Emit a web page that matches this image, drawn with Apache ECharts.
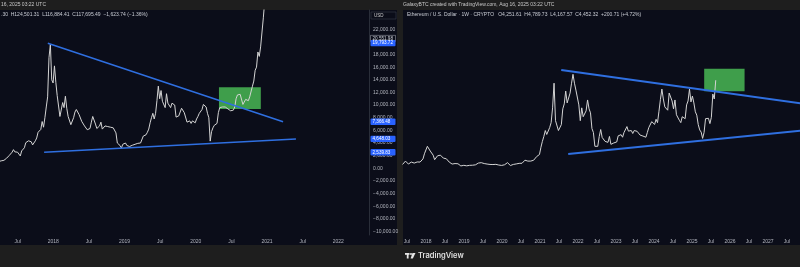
<!DOCTYPE html>
<html><head><meta charset="utf-8">
<script src="https://cdn.jsdelivr.net/npm/echarts@6/dist/echarts.min.js"></script>
<style>html,body{margin:0;padding:0;background:#1e1e1e}#c{width:800px;height:267px}</style>
</head><body><div id="c"></div><script>
// ---------- DATA ----------
const btcStart = '2017-03-26'; // weekly closes
const btc2017 = [1040,1120,1180,1210,1260,1350,1600,1750,2050,2200,2550,2950,2600,2500,2550,2500,1950,2750,2750,3250,4050,4100,4350,4600,4200,3700,3900,4350,4800,5700,6000,6150,7400,6500,8000,9700,11300,17500,19600,14000,13500];
const btc2018 = [16200,13600,11500,11400,8200,8100,10400,9600,11400,9500,8200,8500,6900,6900,8000,8900,9300,9600,8500,8200,7400,7600,6700,6500,6100,6400,6300,7300,8200,8200,7000,6300,6400,6700,7300,6200,6500,6700,6600,6600,6300,6500,6400,6400,6300,5600,4000,4100,3600,3200,3800,3900];
const btc2019 = [4000,3600,3550,3450,3450,3650,3900,3800,3850,3950,4000,4000,4150,5100,5100,5300,5700,6200,7200,8000,8700,7800,8700,10700,13000,11000,12300,10600,10500,9600,11800,10300,10100,9600,10300,10300,10000,8100,8200,8300,8200,9500,9200,8800,8500,7300,7500,7500,7100,7500,7300,7200];
const btc2020 = [7800,8200,8700,8600,9300,10100,9900,9700,8700,8000,4300,5800,6400,6800,6900,7100,8800,9600,9300,9700,9700,9700,9500,9400,9150,9100,9300,9200,9700,11000,11600,11900,11700,11700,10100,10400,10900,10700,10700,11300,11500,13000,13800,15500,16000,18400,17700,19200,19000,23800,26500,33000];
const btc2021 = [33000,40000,36000,32000,34000,39000,47000,57000,46000,51000,59000,58000];

const ethStart = '2017-05-21'; // two-week closes
const eth2017 = [180,250,350,290,200,200,300,345,250,290,305,295,300,360,460,720,760];
const eth2018 = [1100,1050,860,860,650,420,400,620,720,650,600,500,450,470,450,300,280,200,240,225,200,215,130,105,95,135];
const eth2019 = [125,110,120,135,135,140,175,160,165,250,245,270,290,225,210,200,185,180,170,175,175,185,180,150,140,130];
const eth2020 = [145,165,225,270,200,125,145,180,210,205,230,235,225,240,310,395,395,350,370,350,370,395,460,575,590,685];
const eth2021 = [1050,1350,1600,1900,1700,1800,2050,2300,3050,4300,2400,2400,1900,1850,2200,3000,3250,3900,3300,3400,3800,4300,4750,4300,3950,4050];
const eth2022 = [3200,2400,3050,2600,2550,2900,3450,3000,2800,2000,1800,1100,1050,1100,1600,1950,1550,1600,1350,1300,1300,1600,1200,1200,1270,1220];
const eth2023 = [1320,1630,1630,1690,1560,1800,1800,2100,1870,1800,1900,1750,1900,1870,1860,1830,1670,1630,1620,1670,1560,1800,2050,2070,2350,2270];
const eth2024 = [2210,2470,2300,2880,3480,4000,3500,3100,3000,2930,3800,3700,3400,3000,3450,2700,2600,2420,2300,2600,2500,2500,3200,3400,4000,3350];
const eth2025 = [3650,3300,2850,2680,2200,1930,1820,1500,1800,2500,2550,2520,2250,2570,3750,3500,4450];

const btcUpperTrend = [['2017-12-04', 19793.72], ['2021-03-24', 7366.48]];
const btcLowerTrend = [['2017-11-15', 2539.83], ['2021-05-29', 4648.03]];
const ethUpperTrend = [['2021-07-24', 4970], ['2027-11-06', 3281]];
const ethLowerTrend = [['2021-09-29', 710], ['2027-11-06', 1891]];
const btcBox = [['2020-04-29', 12816], ['2020-11-30', 9380]];
const ethBox = [['2025-04-28', 5035], ['2026-05-21', 3890]];

const btcPriceTicks = [22000,20000,18000,16000,14000,12000,10000,8000,6000,4000,2000,0,-2000,-4000,-6000,-8000,-10000];
const btcTagValues = [19793.72, 7366.48, 4648.03, 2539.83];
const btcHighBox = 20551.98;
const btcTimeTicks = [2017.5,2018,2018.5,2019,2019.5,2020,2020.5,2021,2021.5,2022];
const ethTimeTicks = [2017.5,2018,2018.5,2019,2019.5,2020,2020.5,2021,2021.5,2022,2022.5,2023,2023.5,2024,2024.5,2025,2025.5,2026,2026.5,2027,2027.5];

const leftStamp = '16, 2025 03:22 UTC';
const rightStamp = 'GalaxyBTC created with TradingView.com, Aug 16, 2025 03:22 UTC';
const leftLegend = '.30  H124,501.31  L116,884.41  C117,695.49  \u22121,623.74 (\u22121.36%)';
const rightLegend = 'Ethereum / U.S. Dollar \u00b7 1W \u00b7 CRYPTO   O4,251.61  H4,789.73  L4,167.57  C4,452.32  +200.71 (+4.72%)';

// ---------- BUILD ----------
const DAY = 86400000;
function decYear(ms){const d=new Date(ms);const y=d.getUTCFullYear();const s=Date.UTC(y,0,1),e=Date.UTC(y+1,0,1);return y+(ms-s)/(e-s);}
function dy(str){return decYear(Date.parse(str));}
const btcValues = [...btc2017,...btc2018,...btc2019,...btc2020,...btc2021];
const ethValues = [...eth2017,...eth2018,...eth2019,...eth2020,...eth2021,...eth2022,...eth2023,...eth2024,...eth2025];
const btcData = btcValues.map((v,i)=>[decYear(Date.parse(btcStart)+i*7*DAY), v]);
const ethData = ethValues.map((v,i)=>[decYear(Date.parse(ethStart)+i*14*DAY), v]);
const pts = a => a.map(p=>[dy(p[0]), p[1]]);

function fmtPrice(v){
  if (v === 0) return '0.00';
  return (v<0?'\u2212':'') + Math.abs(v).toLocaleString('en-US',{minimumFractionDigits:2, maximumFractionDigits:2});
}
const FONT = 'Liberation Sans, Arial, sans-serif';
const LBL = '#b2b5be';
const BLUE = '#2f6fe0';
const GREEN = '#3f9e4b';
const PRICE = '#d4d4d4';

const chart = echarts.init(document.getElementById('c'));
const timeLabel = v => Number.isInteger(v) ? String(v) : 'Jul';

chart.setOption({
  animation: false,
  backgroundColor: '#1e1e1e',
  grid: [
    {left: 0, top: 10, width: 369, height: 225},
    {left: 403, top: 10, width: 397, height: 225}
  ],
  xAxis: [
    {type:'value', gridIndex:0, min: 2017.252, max: 2022.431,
     axisLine:{show:false}, axisTick:{show:false}, splitLine:{show:false},
     axisLabel:{customValues: btcTimeTicks, formatter: timeLabel, fontSize:5, color:LBL, margin:4, fontFamily:FONT}},
    {type:'value', gridIndex:1, min: 2017.395, max: 2027.842,
     axisLine:{show:false}, axisTick:{show:false}, splitLine:{show:false},
     axisLabel:{customValues: ethTimeTicks, formatter: timeLabel, fontSize:5, color:LBL, margin:4, fontFamily:FONT}}
  ],
  yAxis: [
    {type:'value', gridIndex:0, position:'right', min:-10550, max:25040,
     axisLine:{show:true, lineStyle:{color:'#2a2e39', width:1}}, axisTick:{show:false}, splitLine:{show:false},
     axisLabel:{customValues: btcPriceTicks, formatter: fmtPrice, fontSize:5, color:LBL, margin:4, fontFamily:FONT}},
    {type:'value', gridIndex:1, min:-3398, max:8012, show:false,
     axisLine:{show:false}, axisTick:{show:false}, splitLine:{show:false}, axisLabel:{show:false}}
  ],
  series: [
    {type:'line', xAxisIndex:0, yAxisIndex:0, data:[], z:1, silent:true,
     markArea:{silent:true, itemStyle:{color:GREEN, opacity:1}, data:[[{coord:[dy(btcBox[0][0]), btcBox[0][1]]},{coord:[dy(btcBox[1][0]), btcBox[1][1]]}]]}},
    {type:'line', xAxisIndex:1, yAxisIndex:1, data:[], z:1, silent:true,
     markArea:{silent:true, itemStyle:{color:GREEN, opacity:1}, data:[[{coord:[dy(ethBox[0][0]), ethBox[0][1]]},{coord:[dy(ethBox[1][0]), ethBox[1][1]]}]]}},
    {type:'line', xAxisIndex:0, yAxisIndex:0, data: btcData, showSymbol:false, z:4, lineStyle:{color:PRICE, width:1}},
    {type:'line', xAxisIndex:1, yAxisIndex:1, data: ethData, showSymbol:false, z:4, lineStyle:{color:PRICE, width:1}},
    {type:'line', xAxisIndex:0, yAxisIndex:0, data: pts(btcUpperTrend), showSymbol:false, z:5, lineStyle:{color:BLUE, width:1.5}},
    {type:'line', xAxisIndex:0, yAxisIndex:0, data: pts(btcLowerTrend), showSymbol:false, z:5, lineStyle:{color:BLUE, width:1.5}},
    {type:'line', xAxisIndex:1, yAxisIndex:1, data: pts(ethUpperTrend), showSymbol:false, z:5, lineStyle:{color:BLUE, width:2}},
    {type:'line', xAxisIndex:1, yAxisIndex:1, data: pts(ethLowerTrend), showSymbol:false, z:5, lineStyle:{color:BLUE, width:2}}
  ]
});

// ---------- DECORATION (panels, texts, price tags) ----------
const g = [];
g.push({type:'rect', z:-10, shape:{x:0,y:10,width:397,height:235}, style:{fill:'#0b0d19'}});
g.push({type:'rect', z:-10, shape:{x:403,y:10,width:397,height:235}, style:{fill:'#0b0d19'}});
const txt = (x,y,t,size,color,extra) => Object.assign({type:'text', z:50, x, y, style:{text:t, fontSize:size, fill:color, fontFamily:FONT, textVerticalAlign:'middle'}}, extra||{});
g.push(txt(1,5,leftStamp,5,'#c8c8c8'));
g.push(txt(403,5,rightStamp,5,'#c8c8c8'));
g.push(txt(1,15,leftLegend,5,'#c9ccd4'));
g.push(txt(407,15,rightLegend,5,'#c9ccd4'));
// USD box
g.push({type:'rect', z:50, shape:{x:371,y:12,width:25,height:7}, style:{fill:'#0b0d19', stroke:'#3a3e49', lineWidth:0.6}});
g.push(txt(374,15.5,'USD',4.5,'#c8c8c8'));
// high box
const yh = chart.convertToPixel({yAxisIndex:0}, btcHighBox);
g.push({type:'rect', z:60, shape:{x:370.5,y:yh-3,width:25,height:6}, style:{fill:'#0b0d19', stroke:'#b0b3bb', lineWidth:0.5}});
g.push(txt(372.5,yh,fmtPrice(btcHighBox),4.6,'#d0d3da',{z:61}));
btcTagValues.forEach(v=>{
  const y = chart.convertToPixel({yAxisIndex:0}, v);
  g.push({type:'rect', z:60, shape:{x:370.5,y:y-3.2,width:25,height:6.4,r:1}, style:{fill:'#2962ff'}});
  g.push(txt(372.5,y,fmtPrice(v),4.6,'#ffffff',{z:61}));
});
// TradingView logo
g.push({type:'rect', z:50, shape:{x:405,y:253,width:4.5,height:1.8}, style:{fill:'#e6e6e6'}});
g.push({type:'rect', z:50, shape:{x:406.8,y:253,width:1.8,height:5.5}, style:{fill:'#e6e6e6'}});
g.push({type:'circle', z:50, shape:{cx:411,cy:254,r:1}, style:{fill:'#e6e6e6'}});
g.push({type:'polygon', z:50, shape:{points:[[412.5,253],[415.5,253],[412.8,258.5],[410.6,258.5]]}, style:{fill:'#e6e6e6'}});
g.push(txt(418,256,'TradingView',7.5,'#e0e0e0',{style:{text:'TradingView', fontSize:7.5, fontWeight:600, fill:'#e0e0e0', fontFamily:'Inter, '+FONT, textVerticalAlign:'middle'}}));
chart.setOption({graphic: g});
</script></body></html>
